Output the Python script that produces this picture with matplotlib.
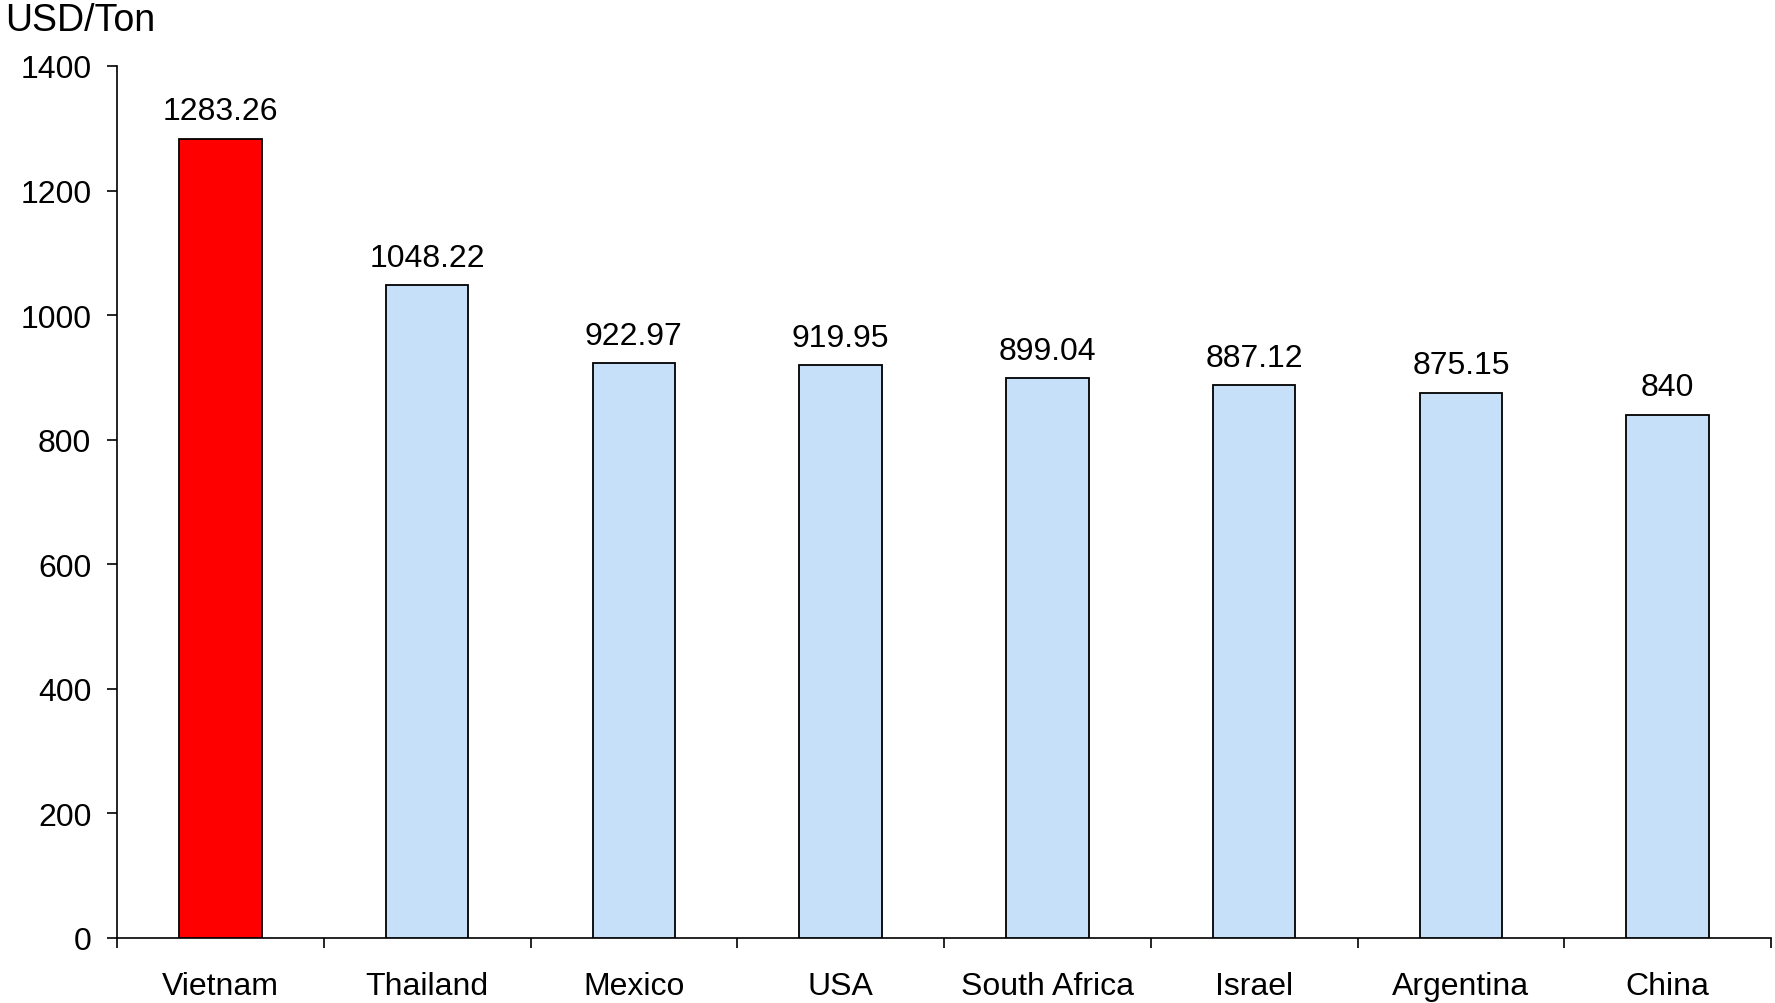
import matplotlib
matplotlib.use("Agg")
import matplotlib.pyplot as plt
import numpy as np

countries = ["Vietnam", "Thailand", "Mexico", "USA", "South Africa", "Israel", "Argentina", "China"]
prices = [1283.26, 1048.22, 922.97, 919.95, 899.04, 887.12, 875.15, 840]
value_labels = ["1283.26", "1048.22", "922.97", "919.95", "899.04", "887.12", "875.15", "840"]
y_ticks = [0, 200, 400, 600, 800, 1000, 1200, 1400]

plt.rcParams['font.family'] = ['Liberation Sans', 'DejaVu Sans']

fig = plt.figure(figsize=(17.75, 10.04), dpi=100)
ax = fig.add_axes([117/1775, 1 - 939/1004, (1771 - 117)/1775, (939 - 67)/1004])

x = np.arange(len(countries))
colors = ["#FF0000"] + ["#C6E0FA"] * (len(countries) - 1)
ax.bar(x, prices, width=0.40, color=colors, edgecolor="black", linewidth=1.3, zorder=3)

for xi, v, lab in zip(x, prices, value_labels):
    ax.annotate(lab, (xi, v), xytext=(0, 14), textcoords="offset points",
                ha="center", va="baseline", fontsize=23)

ax.set_xlim(-0.5, len(countries) - 0.5)
ax.set_ylim(0, 1400)
ax.set_yticks(y_ticks)
ax.tick_params(axis="y", direction="out", length=7.5, width=1.2, pad=11, labelsize=23)

ax.set_xticks(x)
ax.set_xticklabels(countries)
ax.set_xticks(np.arange(-0.5, len(countries)), minor=True)
ax.tick_params(axis="x", which="major", length=0, pad=24, labelsize=23)
ax.tick_params(axis="x", which="minor", direction="out", length=7.5, width=1.2)

for s in ("top", "right"):
    ax.spines[s].set_visible(False)
for s in ("left", "bottom"):
    ax.spines[s].set_linewidth(1.2)

fig.text(5/1775, 1 - 31/1004, "USD/Ton", fontsize=27, ha="left", va="baseline")

fig.savefig("out.png", dpi=100)
